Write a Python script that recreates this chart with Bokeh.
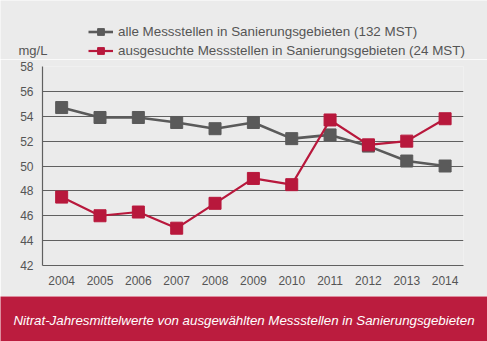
from bokeh.plotting import figure
from bokeh.models import Legend, LegendItem, Label, FixedTicker, Range1d
from bokeh.layouts import column
from bokeh.embed import file_html
from bokeh.resources import INLINE

years = [2004, 2005, 2006, 2007, 2008, 2009, 2010, 2011, 2012, 2013, 2014]
alle = [54.7, 53.9, 53.9, 53.5, 53.0, 53.5, 52.2, 52.5, 51.6, 50.4, 50.0]
ausgesucht = [47.5, 46.0, 46.3, 45.0, 47.0, 49.0, 48.5, 53.7, 51.7, 52.0, 53.8]
y_ticks = [42, 44, 46, 48, 50, 52, 54, 56, 58]
label_alle = "alle Messstellen in Sanierungsgebieten (132 MST)"
label_aus = "ausgesuchte Messstellen in Sanierungsgebieten (24 MST)"
unit_label = "mg/L"
caption = "Nitrat-Jahresmittelwerte von ausgewählten Messstellen in Sanierungsgebieten"

BG = "#ebebeb"
GRAY = "#5a5a5a"
RED = "#b8183c"
BANNER = "#bb1c3e"
TXT = "#555555"
FONT = "Liberation Sans"
W = 487
HEAD_H = 59

# header with legend and unit (legend proxies use the data, which lies outside this view)
h = figure(width=W, height=HEAD_H, output_backend="svg", toolbar_location=None,
           x_range=Range1d(0, W), y_range=Range1d(0, HEAD_H), min_border=0)
h.frame_align = False
h.axis.visible = False
h.grid.visible = False
h.background_fill_color = BG
h.border_fill_color = BG
h.outline_line_color = None
hl1 = h.line(years, alle, line_color=GRAY, line_width=2.6)
hs1 = h.scatter(years, alle, marker="square", size=12, fill_color=GRAY, line_color=GRAY)
hl2 = h.line(years, ausgesucht, line_color=RED, line_width=2.2)
hs2 = h.scatter(years, ausgesucht, marker="square", size=12, fill_color=RED, line_color=RED)
legend = Legend(items=[LegendItem(label=label_alle, renderers=[hl1, hs1]),
                       LegendItem(label=label_aus, renderers=[hl2, hs2])],
                location=(88, 0.5), padding=0, margin=0, spacing=2,
                glyph_width=25, glyph_height=17, label_standoff=5, label_height=17,
                label_text_font=FONT, label_text_font_size="13.4px",
                label_text_color=TXT, border_line_color=None,
                background_fill_alpha=0)
h.add_layout(legend, "center")
h.add_layout(Label(x=18, y=HEAD_H - 50, text=unit_label, text_font=FONT,
                   text_font_size="13px", text_color=TXT, text_baseline="middle"))

# main chart
p = figure(width=W, height=237, output_backend="svg", toolbar_location=None,
           x_range=Range1d(2003.5, 2014.48), y_range=Range1d(42, 58),
           min_border_left=42, min_border_right=24, min_border_top=7, min_border_bottom=31)
p.frame_align = False
p.background_fill_color = BG
p.border_fill_color = BG
p.outline_line_color = None

p.xgrid.grid_line_color = None
p.ygrid.grid_line_color = "#606060"
p.ygrid.grid_line_width = 1.2
p.ygrid.ticker = FixedTicker(ticks=y_ticks)

p.xaxis.ticker = FixedTicker(ticks=years)
p.yaxis.ticker = FixedTicker(ticks=y_ticks)
for ax in (p.xaxis, p.yaxis):
    ax.axis_line_color = "#606060"
    ax.axis_line_width = 1.2
    ax.major_tick_line_color = None
    ax.minor_tick_line_color = None
    ax.major_label_text_font = FONT
    ax.major_label_text_font_size = "12px"
    ax.major_label_text_color = TXT
p.xaxis.major_label_standoff = 4
p.yaxis.major_label_standoff = 3

p.line(years, alle, line_color=GRAY, line_width=2.6)
p.scatter(years, alle, marker="square", size=12, fill_color=GRAY, line_color=GRAY)
p.line(years, ausgesucht, line_color=RED, line_width=2.2)
p.scatter(years, ausgesucht, marker="square", size=12, fill_color=RED, line_color=RED)

# caption banner
b = figure(width=W, height=45, output_backend="svg", toolbar_location=None,
           x_range=Range1d(0, 1), y_range=Range1d(0, 1), min_border=0)
b.frame_align = False
b.axis.visible = False
b.grid.visible = False
b.background_fill_color = BANNER
b.border_fill_color = BANNER
b.outline_line_color = None
b.add_layout(Label(x=0.5, y=0.47, text=caption, text_align="center", text_baseline="middle",
                   text_font=FONT, text_font_style="italic", text_font_size="13.3px",
                   text_color="white"))

layout = column(h, p, b, spacing=0)
open("out.html", "w").write(file_html(layout, INLINE))
